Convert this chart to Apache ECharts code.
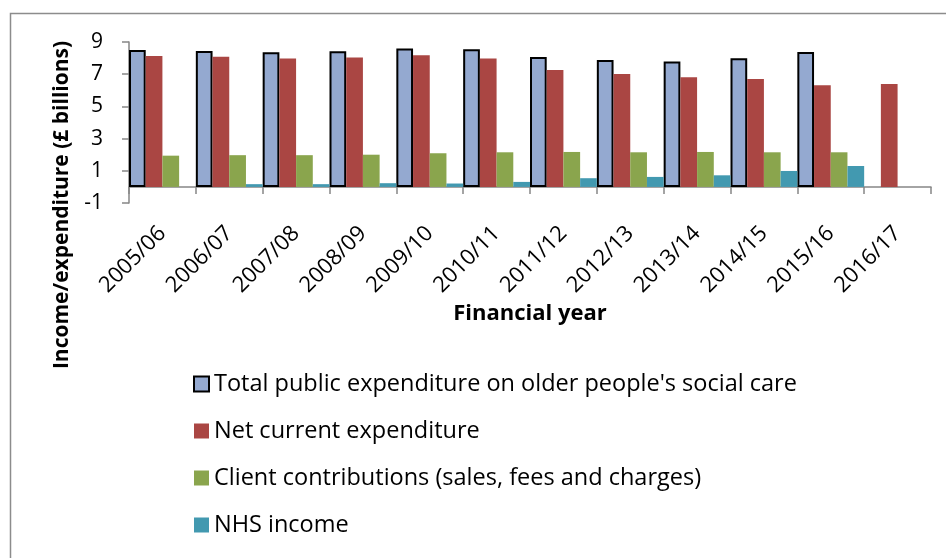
<!DOCTYPE html>
<html><head><meta charset="utf-8">
<script src="https://cdn.jsdelivr.net/npm/echarts@6/dist/echarts.min.js"></script>
<style>html,body{margin:0;padding:0;background:#fff}#c{width:946px;height:558px}</style>
</head><body><div id="c"></div>
<script>
const categories = ['2005/06','2006/07','2007/08','2008/09','2009/10','2010/11','2011/12','2012/13','2013/14','2014/15','2015/16','2016/17'];
const totalPublic = [8.50, 8.44, 8.36, 8.42, 8.59, 8.55, 8.07, 7.88, 7.79, 7.99, 8.38, null];
const netCurrent = [8.13, 8.09, 7.97, 8.03, 8.17, 7.98, 7.26, 7.01, 6.81, 6.70, 6.31, 6.39];
const clientContrib = [1.94, 1.97, 1.97, 2.00, 2.09, 2.15, 2.17, 2.15, 2.17, 2.15, 2.15, null];
const nhsIncome = [null, 0.17, 0.17, 0.23, 0.21, 0.31, 0.54, 0.62, 0.72, 0.99, 1.30, null];
const yTicks = {min: -1, max: 9, interval: 2};
const seriesNames = ["Total public expenditure on older people's social care", 'Net current expenditure', 'Client contributions (sales, fees and charges)', 'NHS income'];

const FONT = '"Open Sans"';
const chart = echarts.init(document.getElementById('c'), null, {renderer: 'canvas'});
const mk = (name, data, color, extra) => Object.assign({
  name, type: 'bar', data, barGap: '0%', barCategoryGap: '0%',
  itemStyle: Object.assign({color: color}, extra || {}),
  emphasis: {disabled: true}
});
chart.setOption({
  animation: false,
  textStyle: {fontFamily: FONT},
  grid: {left: 129, right: 15, top: 42, bottom: 355, containLabel: false},
  xAxis: {
    type: 'category', data: categories, boundaryGap: true,
    axisLine: {onZero: true, lineStyle: {color: '#868686', width: 1.5}},
    axisTick: {show: true, length: 7, lineStyle: {color: '#868686', width: 1.5}},
    axisLabel: {rotate: 45, fontSize: 22, color: '#000', margin: 27, interval: 0, fontFamily: FONT},
    name: 'Financial year', nameLocation: 'middle', nameGap: 100,
    nameTextStyle: {fontSize: 22, fontWeight: 'bold', color: '#000', fontFamily: FONT}
  },
  yAxis: {
    type: 'value', min: yTicks.min, max: yTicks.max, interval: yTicks.interval,
    splitLine: {show: false},
    axisLine: {show: true, lineStyle: {color: '#868686', width: 1.5}},
    axisTick: {show: true, length: 7, lineStyle: {color: '#868686', width: 1.5}},
    axisLabel: {fontSize: 21, color: '#000', margin: 26, fontFamily: FONT}
  },
  legend: {
    orient: 'vertical', left: 188, top: 367, itemGap: 23, itemWidth: 15, itemHeight: 15,
    icon: 'rect',
    textStyle: {fontSize: 23.5, color: '#000', fontFamily: FONT, padding: [0, 0, 0, 0]},
    data: seriesNames
  },
  graphic: [
    {type: 'rect', left: 8, top: 11, shape: {width: 1000, height: 700}, style: {fill: 'none', stroke: '#8c8c8c', lineWidth: 1.5}, silent: true},
    {type: 'text', x: 62, y: 205, rotation: Math.PI / 2, style: {text: 'Income/expenditure (£ billions)', fontSize: 21, fontWeight: 'bold', fill: '#000', fontFamily: FONT, align: 'center', verticalAlign: 'middle'}}
  ],
  series: [
    mk(seriesNames[0], totalPublic, '#94A9D0', {borderColor: '#000', borderWidth: 2}),
    mk(seriesNames[1], netCurrent, '#AA4643'),
    mk(seriesNames[2], clientContrib, '#8AA54D'),
    mk(seriesNames[3], nhsIncome, '#4299B0')
  ]
});
</script></body></html>
